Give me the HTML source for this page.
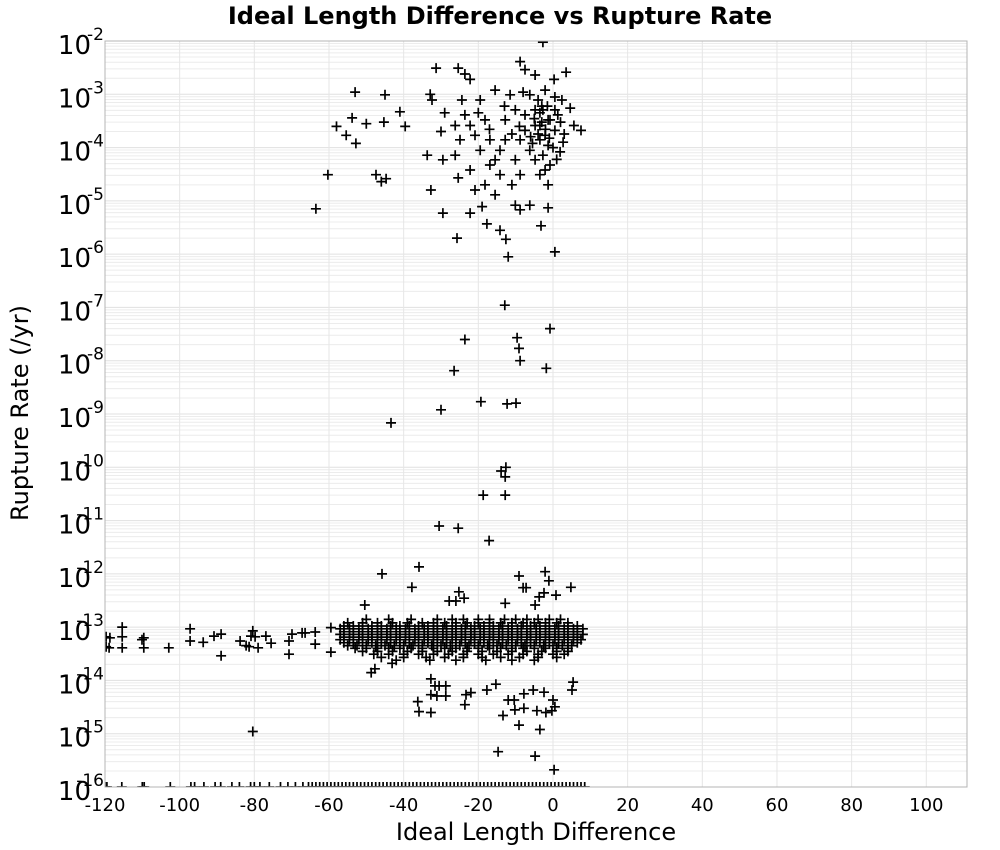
<!DOCTYPE html>
<html><head><meta charset="utf-8"><style>
body{margin:0;background:#fff;}
svg{display:block;font-family:"Liberation Sans","DejaVu Sans",sans-serif;}
</style></head><body>
<svg id="chart" width="1000" height="850" viewBox="0 0 1000 850" xmlns="http://www.w3.org/2000/svg">
<text x="500" y="24" text-anchor="middle" font-size="24" font-weight="bold" font-family="DejaVu Sans, sans-serif">Ideal Length Difference vs Rupture Rate</text>
<text transform="translate(28,413) rotate(-90)" text-anchor="middle" font-size="24" font-family="DejaVu Sans, sans-serif">Rupture Rate (/yr)</text>
<text x="536" y="840" text-anchor="middle" font-size="24" font-family="DejaVu Sans, sans-serif">Ideal Length Difference</text>
<defs><clipPath id="pc"><rect x="105" y="41" width="862" height="746"/></clipPath></defs>
<g id="grid"></g>
<g id="marks" clip-path="url(#pc)"></g>
<rect x="105" y="41" width="862" height="746" fill="none" stroke="#b4b4b4" stroke-width="1"/>
<g id="axes"></g>
</svg>
<script>
const xTicks=[-120,-100,-80,-60,-40,-20,0,20,40,60,80,100];
const yDecades=[-2,-3,-4,-5,-6,-7,-8,-9,-10,-11,-12,-13,-14,-15,-16];
const pointX=[-60.3,-63.5,-53,-45,-58,-55.4,-52.8,-53.8,-50,-45.3,-39.6,-41,-47.4,-44.7,-46,-31.3,-25.4,-32.9,-32.4,-29,-30,-33.7,-29.5,-32.7,-29.5,-25.7,-22.2,-19,-17.7,-14.2,-12.6,-12,-23.6,-22.2,-24.4,-19.5,-8.8,-7.5,-2.7,-4.8,3.5,0.5,4.6,7.5,5.6,2.7,1.9,-1.3,-3.2,-1.3,0.5,-6.2,-8.8,-11,-14.2,-16.9,-18.2,-22.2,-25.4,-26.2,-24.9,-20.9,-16.9,-12.8,-10.1,-7.5,-4.8,-3.5,-2.1,-0.8,-4,-2.1,-6.2,0.3,-11.5,-15.5,-14.2,-10.1,-4.8,-0.8,-18.2,-22.2,-26.2,-3.5,-2.1,-8.8,-6.2,-10.1,-15.5,-20.9,0.5,1.3,2.4,-1.3,-3.5,-2.7,-12.8,-8.8,-15.5,-19.5,-23.6,-7.5,0.5,-1.3,-2.7,-4.8,
-3,-2,-4,-1,-5,-3.5,-1.5,-6,2,3,-9,-11,-13,-17,-20,-5.5,0,1,-3,-8,
-12.9,-0.8,-23.6,-9.6,-9.1,-8.8,-26.5,-1.8,-19.3,-12.3,-9.9,-30,-43.4,-13.9,-12.6,-12.8,-18.7,-12.8,-30.5,-25.4,-17.1,
-45.8,-35.9,-37.8,-50.4,-25.2,-27.8,-26,-23.8,-9.1,-2.1,-1.1,4.8,-8,-7.2,-3.7,-2.4,0.8,-12.8,-4.8,
-35.9,-48.7,-47.7,-43.1,-32.7,-31.6,-30.5,-28.7,-32.7,-31.1,-28.7,-23.6,-22,-17.7,-15.3,-12,-10.4,-7.8,-10.2,-7.8,-4.3,0,0.5,5.1,-5.3,-2.4,-36.2,-32.7,-23.3,-13.4,-9.1,-3.5,-14.7,-4.8,0.3,-1.9,-0.3,5.4,
-119.7,-118.7,-115.4,-115.4,-115.4,-119.7,-118.9,-110.1,-109.6,-109.6,-102.9,-97.2,-97.2,-93.7,-90.8,-88.9,-88.9,-83.8,-82.2,-81.4,-80.9,-80.4,-79.8,-79,-76.9,-75.5,-70.7,-70.7,-69.9,-67.2,-66.4,-63.7,-63.7,-59.5,-59.5,-80.4];
const pointRate=[3.1e-5,7.1e-6,1.1e-3,9.8e-4,2.5e-4,1.7e-4,1.2e-4,3.6e-4,2.8e-4,3e-4,2.5e-4,4.7e-4,3.1e-5,2.6e-5,2.3e-5,3.1e-3,3.1e-3,1e-3,7.8e-4,4.5e-4,2e-4,7.2e-5,5.9e-5,1.6e-5,5.9e-6,2e-6,5.9e-6,7.8e-6,3.7e-6,2.8e-6,1.9e-6,8.9e-7,2.4e-3,1.9e-3,7.8e-4,7.8e-4,4.1e-3,2.9e-3,9.5e-3,2.3e-3,2.6e-3,8.9e-4,5.5e-4,2.1e-4,2.6e-4,1.26e-4,8.3e-5,2e-5,3.4e-6,7.4e-6,1.1e-6,8.9e-5,3.1e-5,2e-5,3.1e-5,4.7e-5,2e-5,3.8e-5,2.7e-5,7.2e-5,1.4e-4,1.7e-4,1.4e-4,3.3e-4,5.1e-4,2.1e-4,5.1e-4,2.6e-4,1.7e-4,3.3e-4,7.8e-4,1.2e-3,9.8e-4,1.9e-3,9.8e-4,1.2e-3,8.9e-5,5.9e-5,5.9e-5,4.7e-5,3.3e-4,2.6e-4,2.6e-4,3.1e-5,3.8e-5,6.8e-6,8.3e-6,8.3e-6,1.3e-5,1.6e-5,2.1e-4,4.1e-4,7.8e-4,1.1e-4,1.4e-4,7.2e-5,1.4e-4,1.4e-4,5.9e-5,8.9e-5,4.1e-4,4.1e-4,5.1e-4,3.3e-4,5.1e-4,2.6e-4,
3e-4,2.2e-4,1.8e-4,1.5e-4,3.5e-4,4.5e-4,6e-4,1.6e-4,3e-4,1.8e-4,2.5e-4,1.8e-4,6e-4,2.2e-4,4.5e-4,1.2e-4,1e-4,6e-5,6e-4,1.1e-3,
1.1e-7,4e-8,2.5e-8,2.7e-8,1.7e-8,1e-8,6.5e-9,7.2e-9,1.7e-9,1.55e-9,1.6e-9,1.2e-9,6.8e-10,8.5e-11,1e-10,6.6e-11,3e-11,3e-11,7.9e-12,7.2e-12,4.2e-12,
1e-12,1.35e-12,5.6e-13,2.6e-13,4.6e-13,3.1e-13,3.1e-13,3.5e-13,9.1e-13,1.1e-12,7.4e-13,5.6e-13,5.5e-13,5.5e-13,3.7e-13,4.4e-13,4e-13,2.8e-13,2.6e-13,
2.6e-15,1.4e-14,1.65e-14,2.1e-14,1.07e-14,7.9e-15,7.9e-15,7.9e-15,5.4e-15,5.1e-15,5.1e-15,3.5e-15,5.9e-15,6.6e-15,8.5e-15,4.3e-15,4.3e-15,5.6e-15,2.8e-15,3e-15,2.7e-15,4.3e-15,3.2e-15,6.6e-15,6.6e-15,6e-15,4e-15,2.5e-15,5.4e-15,2.2e-15,1.45e-15,1.2e-15,4.6e-16,3.8e-16,2.1e-16,2.5e-15,2.7e-15,9.3e-15,
6.6e-14,6.3e-14,1e-13,6.6e-14,4.1e-14,4.3e-14,4.1e-14,5.8e-14,6.3e-14,4.1e-14,4.1e-14,9.3e-14,5.5e-14,5.2e-14,6.8e-14,7.4e-14,2.9e-14,5.5e-14,4.5e-14,4.3e-14,6.8e-14,8.5e-14,6.6e-14,4.1e-14,6.8e-14,5e-14,5.5e-14,3.1e-14,7.4e-14,7.8e-14,7.8e-14,8.1e-14,4.8e-14,9.8e-14,3.4e-14,1.1e-15];
// dense band near 1e-13: each rate level with its x values
const bandRates=[1.4e-13,1.2e-13,1.05e-13,9.3e-14,8.2e-14,7.3e-14,6.5e-14,5.8e-14,5.1e-14,4.5e-14,4e-14,3.5e-14,3.1e-14,2.7e-14,2.4e-14];
const bandX=[
[-50,-44,-38,-31,-27,-24,-20,-17,-13,-10,-7,-4,-1,2],
[-55,-51,-47,-43,-39,-35,-32,-29,-26,-23,-20,-17,-14,-11,-8,-5,-2,1,4],
[-56,-53.5,-51,-48.5,-46,-43.5,-41,-38.5,-36,-33.5,-31,-28.5,-26,-23.5,-21,-18.5,-16,-13.5,-11,-8.5,-6,-3.5,-1,1.5,4,6.5],
[-57,-54.5,-52,-49.5,-47,-44.5,-42,-39.5,-37,-34.5,-32,-29.5,-27,-24.5,-22,-19.5,-17,-14.5,-12,-9.5,-7,-4.5,-2,0.5,3,5.5,8],
[-56,-53.5,-51,-48.5,-46,-43.5,-41,-38.5,-36,-33.5,-31,-28.5,-26,-23.5,-21,-18.5,-16,-13.5,-11,-8.5,-6,-3.5,-1,1.5,4,6.5],
[-57,-54.5,-52,-49.5,-47,-44.5,-42,-39.5,-37,-34.5,-32,-29.5,-27,-24.5,-22,-19.5,-17,-14.5,-12,-9.5,-7,-4.5,-2,0.5,3,5.5,8],
[-56,-53.5,-51,-48.5,-46,-43.5,-41,-38.5,-36,-33.5,-31,-28.5,-26,-23.5,-21,-18.5,-16,-13.5,-11,-8.5,-6,-3.5,-1,1.5,4,6.5],
[-57,-54.5,-52,-49.5,-47,-44.5,-42,-39.5,-37,-34.5,-32,-29.5,-27,-24.5,-22,-19.5,-17,-14.5,-12,-9.5,-7,-4.5,-2,0.5,3,5.5,7.5],
[-56,-53.5,-51,-48.5,-46,-43.5,-41,-38.5,-36,-33.5,-31,-28.5,-26,-23.5,-21,-18.5,-16,-13.5,-11,-8.5,-6,-3.5,-1,1.5,4,6.5],
[-55,-52.5,-50,-47.5,-45,-42.5,-40,-37.5,-35,-32.5,-30,-27.5,-25,-22.5,-20,-17.5,-15,-12.5,-10,-7.5,-5,-2.5,0,2.5,5],
[-53,-50,-47,-44,-41,-38,-35,-32,-29,-26,-23,-20,-17,-14,-11,-8,-5,-2,1,4],
[-51,-47,-43,-39,-35,-31,-27,-23,-19,-15,-11,-7,-3,1,4],
[-48,-44,-40,-36,-32,-28,-24,-20,-16,-12,-8,-4,0,3],
[-46,-40,-34,-29,-24,-19,-14,-9,-4,1],
[-42,-33,-26,-18,-11,-5]];
// zero-rate entries drawn on the 1e-16 floor
const zeroX=[-120,-119.5,-115.5,-110,-109.5,-102.5,-97,-96,-93.5,-90.5,-89,-86,-84,-81,-80,-78.5,-76,-73,-71,-69,-67,-65.5,-64.5,-63.5,-62.5,-61.5,-60.5,-59.5,-58.5,-57.5,-56.5,-55.5,-54.5,-53.5,-52.5,-51.5,-50.5,-49.5,-48.5,-47.5,-46.5,-45.5,-44.5,-43.5,-42.5,-41.5,-40.5,-39.5,-38.5,-37.5,-36.5,-35.5,-34.5,-33.5,-32.5,-31.5,-30.5,-29.5,-28.5,-27.5,-26.5,-25.5,-24.5,-23.5,-22.5,-21.5,-20.5,-19.5,-18.5,-17.5,-16.5,-15.5,-14.5,-13.5,-12.5,-11.5,-10.5,-9.5,-8.5,-7.5,-6.5,-5.5,-4.5,-3.5,-2.5,-1.5,-0.5,0.5,1.5,2.5,3.5,4.5,5.5,6.5,7.5,8.5];

const NS='http://www.w3.org/2000/svg';
const X0=105,X1=967,Y0=41,Y1=787,XMIN=-120,XMAX=110.9,LMAX=-2,LMIN=-16;
function xs(v){return X0+(v-XMIN)/(XMAX-XMIN)*(X1-X0);}
function ys(r){const L=Math.log10(Math.max(r,1e-16));return Y0+(LMAX-L)/(LMAX-LMIN)*(Y1-Y0);}
function mk(tag,attrs,parent){const e=document.createElementNS(NS,tag);for(const k in attrs)e.setAttribute(k,attrs[k]);parent.appendChild(e);return e;}
const grid=document.getElementById('grid'),marks=document.getElementById('marks'),axes=document.getElementById('axes');
for(let d=-16;d<-2;d++){for(let k=1;k<=9;k++){const y=ys(k*Math.pow(10,d));
const l=mk('line',{x1:X0,x2:X1,y1:y,y2:y,stroke:k===1?'#e0e0e0':'#ececec','stroke-width':1},grid);

}}
xTicks.forEach(t=>{const x=xs(t);
if(t>XMIN){const l=mk('line',{x1:x,x2:x,y1:Y0,y2:Y1,stroke:'#e6e6e6','stroke-width':1},grid);

}
const tx=mk('text',{x:x,y:811,'text-anchor':'middle','font-size':18,'font-family':'DejaVu Sans, sans-serif'},axes);
tx.textContent=t;

});
yDecades.forEach(d=>{const y=ys(Math.pow(10,d));
const g=mk('text',{x:91,y:y+13,'text-anchor':'end','font-size':26,'font-family':'DejaVu Sans, sans-serif'},axes);
g.textContent='10';


const s=mk('text',{x:104,y:y-1,'text-anchor':'end','font-size':17,'font-family':'DejaVu Sans, sans-serif'},axes);
s.textContent=String(d);

});
function cross(x,y){const p=mk('path',{d:`M${(x-5).toFixed(1)} ${y.toFixed(1)}H${(x+5).toFixed(1)}M${x.toFixed(1)} ${(y-5).toFixed(1)}V${(y+5).toFixed(1)}`,stroke:'#000','stroke-width':1.7,fill:'none'},marks);

}
bandRates.forEach((r,i)=>bandX[i].forEach(v=>cross(xs(v),ys(r))));
pointX.forEach((v,i)=>cross(xs(v),ys(pointRate[i])));
zeroX.forEach(v=>cross(xs(v),ys(0)));
</script>
</body></html>
